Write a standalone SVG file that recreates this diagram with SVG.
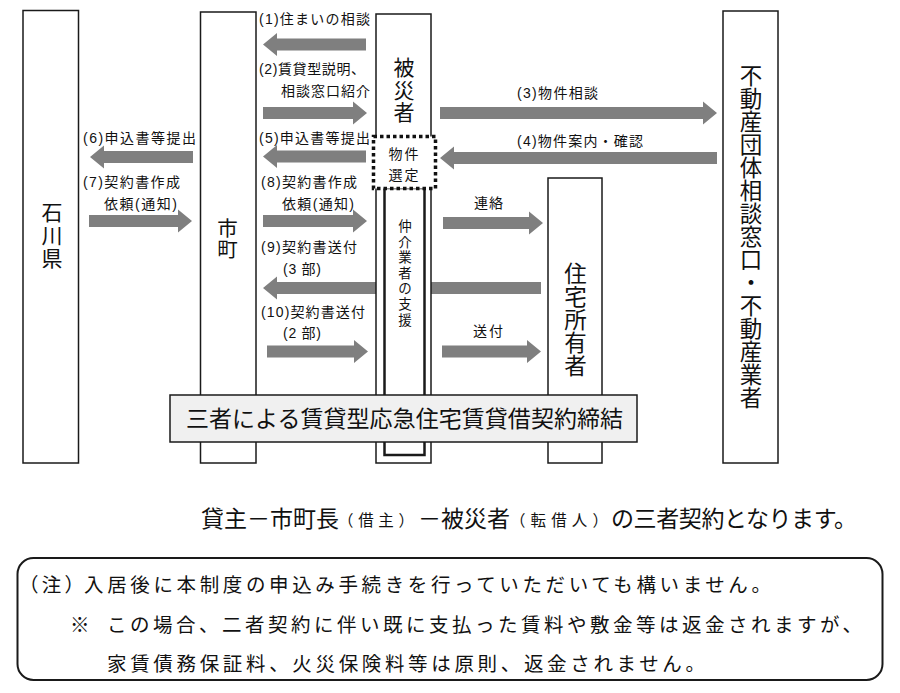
<svg xmlns="http://www.w3.org/2000/svg" width="900" height="693" viewBox="0 0 900 693">
<style>
text{font-family:"Liberation Sans","Noto Sans CJK JP",sans-serif;fill:#111}
.box{fill:#fff;stroke:#1a1a1a;stroke-width:1.5}
.arr{fill:#7f7f7f}
.lbl{font-size:14px}
.big{font-size:21.5px;text-anchor:middle}
.v14{font-size:13.5px;text-anchor:middle}
.note{font-size:19.5px}
.sent{font-size:23px}
.sm{font-size:15.5px}
</style>
<rect width="900" height="693" fill="#fff"/>
<g id="connectors">
<polygon class="arr" points="366,38.5 277,38.5 277,33 263,44.5 277,56 277,50.5 366,50.5"/>
<polygon class="arr" points="263,107 353,107 353,101.5 367,113 353,124.5 353,119 263,119"/>
<polygon class="arr" points="440,107 703,107 703,101.5 717,113 703,124.5 703,119 440,119"/>
<polygon class="arr" points="717,152 454,152 454,146.5 440,158 454,169.5 454,164 717,164"/>
<polygon class="arr" points="366,150.5 277,150.5 277,145 263,156.5 277,168 277,162.5 366,162.5"/>
<polygon class="arr" points="193,151 104,151 104,145.5 90,157 104,168.5 104,163 193,163"/>
<polygon class="arr" points="89,215 178,215 178,209.5 192,221 178,232.5 178,227 89,227"/>
<polygon class="arr" points="263,215 353,215 353,209.5 367,221 353,232.5 353,227 263,227"/>
<polygon class="arr" points="443,217 529,217 529,211.5 543,223 529,234.5 529,229 443,229"/>
<polygon class="arr" points="541,282 277,282 277,276.5 263,288 277,299.5 277,294 541,294"/>
<polygon class="arr" points="267,345.5 354,345.5 354,340 368,351.5 354,363 354,357.5 267,357.5"/>
<polygon class="arr" points="442,345.5 527,345.5 527,340 541,351.5 527,363 527,357.5 442,357.5"/>
</g>
<g id="labels">
<text class="lbl" x="259" y="24" textLength="111">(1)住まいの相談</text>
<text class="lbl" x="259" y="74" textLength="106">(2)賃貸型説明、</text>
<text class="lbl" x="281" y="96" textLength="89">相談窓口紹介</text>
<text class="lbl" x="259" y="143" textLength="111">(5)申込書等提出</text>
<text class="lbl" x="261" y="187" textLength="96">(8)契約書作成</text>
<text class="lbl" x="282" y="209" textLength="72">依頼(通知)</text>
<text class="lbl" x="83" y="143" textLength="113">(6)申込書等提出</text>
<text class="lbl" x="83" y="187" textLength="97">(7)契約書作成</text>
<text class="lbl" x="104" y="209" textLength="73">依頼(通知)</text>
<text class="lbl" x="261" y="252" textLength="96">(9)契約書送付</text>
<text class="lbl" x="283" y="274" textLength="38">(3 部)</text>
<text class="lbl" x="261" y="317" textLength="104">(10)契約書送付</text>
<text class="lbl" x="283" y="338" textLength="38">(2 部)</text>
<text class="lbl" x="517" y="98" textLength="81">(3)物件相談</text>
<text class="lbl" x="517" y="146" textLength="126">(4)物件案内・確認</text>
<text class="lbl" x="474" y="208" textLength="29">連絡</text>
<text class="lbl" x="473" y="336" textLength="30">送付</text>
</g>
<g id="ishikawa">
<rect class="box" x="23" y="10.5" width="55.5" height="452.5"/>
<text class="big" style="font-size:21px"><tspan x="52" y="220">石</tspan><tspan x="52" y="243">川</tspan><tspan x="52" y="266">県</tspan></text>
</g>
<g id="shicho">
<rect class="box" x="200.5" y="12" width="55.5" height="451"/>
<text class="big" style="font-size:20.5px"><tspan x="227.5" y="235.5">市</tspan><tspan x="227.5" y="257">町</tspan></text>
</g>
<g id="hisaisha">
<rect class="box" x="376" y="14" width="55" height="449"/>
<text class="big" style="font-size:21px"><tspan x="404" y="75">被</tspan><tspan x="404" y="97.5">災</tspan><tspan x="404" y="120">者</tspan></text>
</g>
<g id="chukai">
<rect x="384.5" y="188" width="40" height="267" fill="#fff" stroke="#1a1a1a" stroke-width="2.5"/>
<text class="v14"><tspan x="405" y="231">仲</tspan><tspan x="405" y="246.6">介</tspan><tspan x="405" y="262.2">業</tspan><tspan x="405" y="277.8">者</tspan><tspan x="405" y="293.4">の</tspan><tspan x="405" y="309">支</tspan><tspan x="405" y="324.6">援</tspan></text>
</g>
<g id="bukken">
<rect x="373.5" y="136.5" width="62" height="52" fill="#fff" stroke="#111" stroke-width="3.5" stroke-dasharray="3.5 3"/>
<text class="v14" style="font-size:14px"><tspan x="395.5" y="159">物</tspan><tspan x="411.5" y="159">件</tspan><tspan x="395.5" y="180">選</tspan><tspan x="411.5" y="180">定</tspan></text>
</g>
<g id="jutaku">
<rect class="box" x="548" y="178" width="54" height="285"/>
<text class="big" style="font-size:22.5px"><tspan x="575.5" y="282">住</tspan><tspan x="575.5" y="305">宅</tspan><tspan x="575.5" y="328">所</tspan><tspan x="575.5" y="351">有</tspan><tspan x="575.5" y="374">者</tspan></text>
</g>
<g id="fudosan">
<rect class="box" x="723" y="11" width="55" height="452"/>
<text class="big" style="font-size:22.5px"><tspan x="751" y="84">不</tspan><tspan x="751" y="107">動</tspan><tspan x="751" y="130">産</tspan><tspan x="751" y="153">団</tspan><tspan x="751" y="176">体</tspan><tspan x="751" y="199">相</tspan><tspan x="751" y="222">談</tspan><tspan x="751" y="245">窓</tspan><tspan x="751" y="268">口</tspan><tspan x="751" y="291">・</tspan><tspan x="751" y="314">不</tspan><tspan x="751" y="337">動</tspan><tspan x="751" y="360">産</tspan><tspan x="751" y="383">業</tspan><tspan x="751" y="406">者</tspan></text>
</g>
<g id="banner">
<rect x="170" y="395" width="467" height="47" fill="#f0f0f0" stroke="#1a1a1a" stroke-width="1.5"/>
<text x="186" y="427" style="font-size:23px" textLength="437">三者による賃貸型応急住宅賃貸借契約締結</text>
</g>
<g id="sentence">
<text class="sent" x="201" y="527" textLength="138">貸主－市町長</text>
<text class="sm" x="338" y="526" textLength="76">（借主）</text>
<text class="sent" x="418" y="527" textLength="92">－被災者</text>
<text class="sm" x="510" y="526" textLength="98">（転借人）</text>
<text class="sent" x="611" y="527" textLength="246">の三者契約となります。</text>
</g>
<g id="note">
<rect x="17.5" y="558" width="865" height="122" rx="16" ry="16" fill="#fff" stroke="#1a1a1a" stroke-width="2"/>
<text class="note" x="19" y="592" textLength="65">（注）</text>
<text class="note" x="84" y="592" textLength="687">入居後に本制度の申込み手続きを行っていただいても構いません。</text>
<text class="note" x="70" y="632">※</text>
<text class="note" x="107" y="632" textLength="755">この場合、二者契約に伴い既に支払った賃料や敷金等は返金されますが、</text>
<text class="note" x="107" y="671" textLength="598">家賃債務保証料、火災保険料等は原則、返金されません。</text>
</g>
</svg>
